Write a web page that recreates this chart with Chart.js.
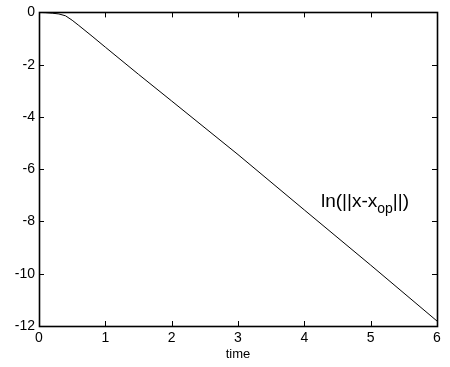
<!DOCTYPE html>
<html>
<head>
<meta charset="utf-8">
<script src="https://cdn.jsdelivr.net/npm/chart.js@4/dist/chart.umd.min.js"></script>
<style>
html,body{margin:0;padding:0;background:#fff;}
#wrap{width:450px;height:367px;position:relative;}
</style>
</head>
<body>
<div id="wrap"><canvas id="c" width="450" height="367"></canvas></div>
<script>
const timeValues = [0, 0.1, 0.2, 0.3, 0.4, 0.5, 0.6, 0.8, 1.0, 1.5, 2.0, 3.0, 4.0, 5.0, 6.0];
const lnNorm =     [0, -0.01, -0.03, -0.06, -0.13, -0.30, -0.50, -0.91, -1.33, -2.37, -3.39, -5.44, -7.56, -9.67, -11.81];
const xTicks = [0, 1, 2, 3, 4, 5, 6];
const yTicks = [0, -2, -4, -6, -8, -10, -12];
const xTitle = 'time';
const annotationMain = 'ln(||x-x';
const annotationSub = 'op';
const annotationEnd = '||)';
const annotationPos = {x: 4.25, y: -7.45};

const FONT = 'Liberation Sans, Arial, sans-serif';

const boxPlugin = {
  id: 'matlabBox',
  afterDraw(chart) {
    const {ctx, chartArea: a, scales} = chart;
    const xs = scales.x, ys = scales.y;
    ctx.save();
    ctx.strokeStyle = '#000';
    ctx.lineWidth = 1.6;
    ctx.strokeRect(Math.round(a.left) + 0.5, Math.round(a.top) + 0.5, Math.round(a.right - a.left), Math.round(a.bottom - a.top));
    ctx.lineWidth = 1;
    const tl = 5;
    ctx.beginPath();
    xTicks.forEach(v => {
      const px = Math.round(xs.getPixelForValue(v)) + 0.5;
      ctx.moveTo(px, a.bottom); ctx.lineTo(px, a.bottom - tl);
      ctx.moveTo(px, a.top); ctx.lineTo(px, a.top + tl);
    });
    yTicks.forEach(v => {
      const py = Math.round(ys.getPixelForValue(v)) + 0.5;
      ctx.moveTo(a.left, py); ctx.lineTo(a.left + tl, py);
      ctx.moveTo(a.right, py); ctx.lineTo(a.right - tl, py);
    });
    ctx.stroke();
    // annotation text
    const px = xs.getPixelForValue(annotationPos.x);
    const py = ys.getPixelForValue(annotationPos.y);
    ctx.fillStyle = '#000';
    ctx.textBaseline = 'alphabetic';
    ctx.textAlign = 'left';
    ctx.font = '19px ' + FONT;
    let w = ctx.measureText(annotationMain).width;
    ctx.fillText(annotationMain, px, py);
    ctx.font = '14px ' + FONT;
    ctx.fillText(annotationSub, px + w, py + 6);
    const w2 = ctx.measureText(annotationSub).width;
    ctx.font = '19px ' + FONT;
    ctx.fillText(annotationEnd, px + w + w2, py);
    ctx.restore();
  }
};

new Chart(document.getElementById('c'), {
  type: 'line',
  data: {
    datasets: [{
      data: timeValues.map((t, i) => ({x: t, y: lnNorm[i]})),
      borderColor: '#000',
      borderWidth: 1,
      pointRadius: 0,
      tension: 0,
      fill: false
    }]
  },
  options: {
    responsive: false,
    animation: false,
    layout: {padding: {top: 12, right: 13, left: 0, bottom: 0}},
    plugins: {legend: {display: false}, tooltip: {enabled: false}},
    scales: {
      x: {
        type: 'linear', min: 0, max: 6,
        afterFit(s) { s.height = 41; },
        afterBuildTicks(s) { s.ticks = xTicks.map(v => ({value: v})); },
        grid: {display: false, drawTicks: false},
        border: {display: false},
        ticks: {color: '#000', font: {family: FONT, size: 14}, padding: 4, maxRotation: 0, autoSkip: false},
        title: {display: true, text: xTitle, color: '#000', font: {family: FONT, size: 13}, padding: {top: 0, bottom: 5}}
      },
      y: {
        type: 'linear', min: -12, max: 0,
        afterFit(s) { s.width = 39; },
        afterBuildTicks(s) { s.ticks = yTicks.map(v => ({value: v})); },
        grid: {display: false, drawTicks: false},
        border: {display: false},
        ticks: {color: '#000', font: {family: FONT, size: 14}, padding: 4, autoSkip: false}
      }
    }
  },
  plugins: [boxPlugin]
});
</script>
</body>
</html>
